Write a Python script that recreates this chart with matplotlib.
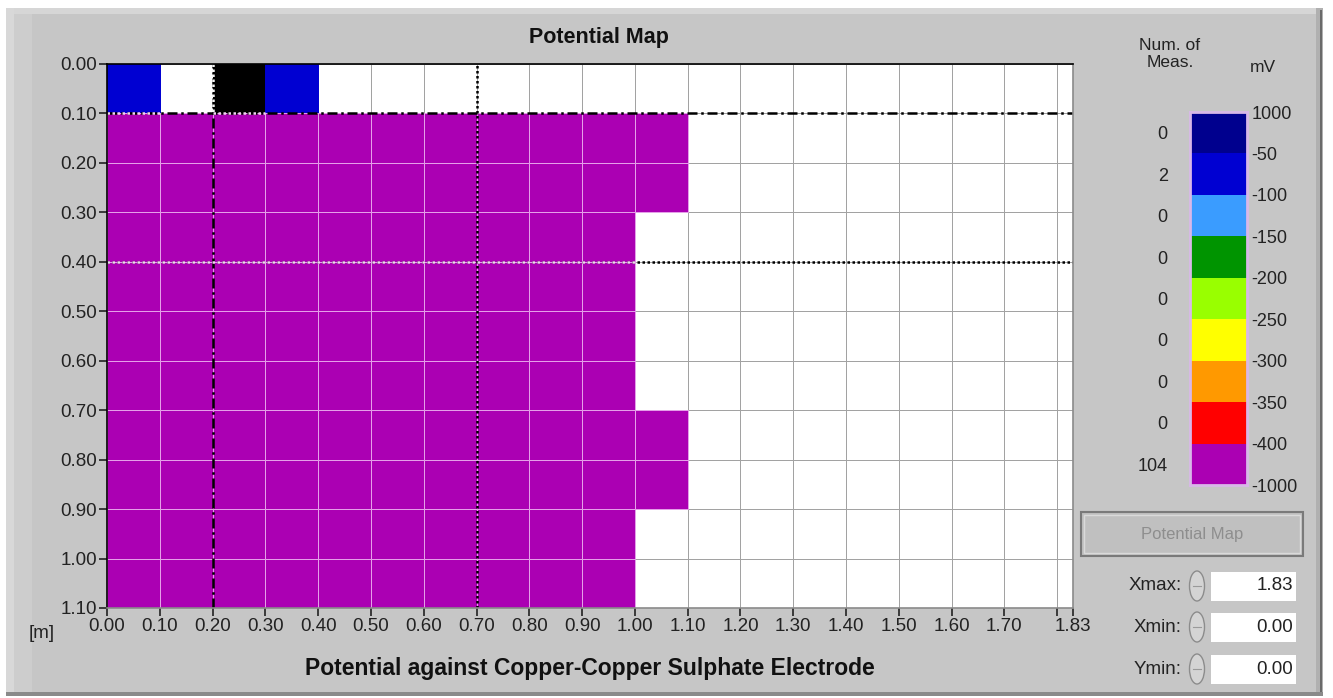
import numpy as np
import matplotlib.pyplot as plt
from matplotlib.colors import ListedColormap
from matplotlib.patches import Rectangle, Ellipse

W, H = 1333, 698

# grid of the potential map (metres)
x_edges = [0.0, 0.1, 0.2, 0.3, 0.4, 0.5, 0.6, 0.7, 0.8, 0.9, 1.0,
           1.1, 1.2, 1.3, 1.4, 1.5, 1.6, 1.7, 1.8, 1.83]
y_edges = [0.0, 0.1, 0.2, 0.3, 0.4, 0.5, 0.6, 0.7, 0.8, 0.9, 1.0, 1.1]
x_ticks = [0.0, 0.1, 0.2, 0.3, 0.4, 0.5, 0.6, 0.7, 0.8, 0.9, 1.0,
           1.1, 1.2, 1.3, 1.4, 1.5, 1.6, 1.7, 1.8, 1.83]
x_tick_labels = ["0.00", "0.10", "0.20", "0.30", "0.40", "0.50", "0.60",
                 "0.70", "0.80", "0.90", "1.00", "1.10", "1.20", "1.30",
                 "1.40", "1.50", "1.60", "1.70", "", "1.83"]
y_ticks = y_edges
y_tick_labels = ["%.2f" % v for v in y_edges]

# cell classes: P = below -400 mV, B = -50..-100 mV, K = black, . = no value
cells = [
    "B.KB...............",
    "PPPPPPPPPPP........",
    "PPPPPPPPPPP........",
    "PPPPPPPPPP.........",
    "PPPPPPPPPP.........",
    "PPPPPPPPPP.........",
    "PPPPPPPPPP.........",
    "PPPPPPPPPPP........",
    "PPPPPPPPPPP........",
    "PPPPPPPPPP.........",
    "PPPPPPPPPP.........",
]

# colour scale (bottom to top)
band_edges = ["-1000", "-400", "-350", "-300", "-250", "-200", "-150",
              "-100", "-50", "1000"]
band_colors = ["#ab00b3", "#ff0000", "#ff9900", "#ffff00", "#99ff00",
               "#009400", "#3a9cff", "#0000d2", "#00008e"]
meas_counts = [104, 0, 0, 0, 0, 0, 0, 2, 0]

# guide lines on the map
guide_x = [0.2, 0.7]
guide_x_style = ["dashdot", "dotted"]
guide_y = [0.1, 0.4]
guide_y_style = ["dashdot", "dotted"]

cell_colors = {"P": band_colors[0], "B": band_colors[7], "K": "#000000"}
cell_edges = {"P": "#e6a2ea", "B": None, "K": None}

styles = {"dashdot": (0, (4, 1.5, 1, 1.5)), "dotted": (0, (1, 1))}
light = "#f2d2f2"

plt.rcParams["font.family"] = ["Liberation Sans", "DejaVu Sans"]


def fx(px):
    return px / W


def fy(py):
    return 1 - py / H


fig = plt.figure(figsize=(W / 100, H / 100), dpi=100)
fig.patch.set_facecolor("white")

# panel background and bevelled frame
bg = fig.add_axes([0, 0, 1, 1])
bg.set_xlim(0, W)
bg.set_ylim(H, 0)
bg.axis("off")
bg.add_patch(Rectangle((6, 8), 1317, 688, facecolor="#c6c6c6", edgecolor="none"))
bg.add_patch(Rectangle((6, 8), 1317, 6, facecolor="#d6d6d6", edgecolor="none"))
bg.add_patch(Rectangle((6, 8), 8, 688, facecolor="#d8d8d8", edgecolor="none"))
bg.add_patch(Rectangle((14, 14), 18, 680, facecolor="#cdcdcd", edgecolor="none"))
bg.add_patch(Rectangle((1316, 8), 7, 688, facecolor="#b0b0b0", edgecolor="none"))
bg.add_patch(Rectangle((1320, 10), 2, 686, facecolor="#6a6a6a", edgecolor="none"))
bg.add_patch(Rectangle((6, 692), 1317, 4, facecolor="#8a8a8a", edgecolor="none"))

# potential map
ax = fig.add_axes([fx(107), fy(608), fx(1073 - 107), (608 - 64) / H])
codes = np.array([list(r) for r in cells])
ax.pcolormesh(x_edges, y_edges, np.zeros(codes.shape),
              cmap=ListedColormap(["white"]), edgecolors="#a2a2a2",
              linewidth=0.6)
for r in range(codes.shape[0]):
    for c in range(codes.shape[1]):
        code = codes[r, c]
        if code not in cell_colors:
            continue
        ec = cell_edges[code] or cell_colors[code]
        ax.add_patch(Rectangle((x_edges[c], y_edges[r]),
                               x_edges[c + 1] - x_edges[c],
                               y_edges[r + 1] - y_edges[r],
                               facecolor=cell_colors[code], edgecolor=ec,
                               linewidth=0.7))

for xv, st in zip(guide_x, guide_x_style):
    ax.axvline(xv, color="black", linestyle=styles[st], linewidth=1.8)
for yv, st in zip(guide_y, guide_y_style):
    ax.axhline(yv, color="black", linestyle=styles[st], linewidth=1.8)
# lighter segments where the guides cross dark cells
for x0, x1 in [(0.0, 0.1), (0.2, 0.3)]:
    ax.plot([x0, x1], [guide_y[0], guide_y[0]], color=light,
            linestyle=styles["dotted"], linewidth=1.8)
ax.plot([0.0, 1.0], [guide_y[1], guide_y[1]], color=light,
        linestyle=styles["dotted"], linewidth=1.8)
ax.plot([guide_x[0], guide_x[0]], [0.0, 0.1], color="#f4f4f4",
        linestyle=styles["dotted"], linewidth=1.8)

ax.set_xlim(0, 1.83)
ax.set_ylim(1.1, 0)
ax.set_xticks(x_ticks, x_tick_labels)
ax.set_yticks(y_ticks, y_tick_labels)
ax.tick_params(axis="both", labelsize=13.5, colors="#222222", length=6,
               width=1.2, direction="out")
ax.tick_params(axis="x", pad=1)
ax.tick_params(axis="y", pad=1)
ax.spines["top"].set_color("black")
ax.spines["left"].set_color("black")
ax.spines["right"].set_color("#8a8a8a")
ax.spines["bottom"].set_color("#8a8a8a")
for s in ax.spines.values():
    s.set_linewidth(1.2)

fig.text(fx(599), fy(38), "Potential Map", ha="center", va="center",
         fontsize=15.5, fontweight="bold", color="#111111")
fig.text(fx(590), fy(668), "Potential against Copper-Copper Sulphate Electrode",
         ha="center", va="center", fontsize=16.5, fontweight="bold",
         color="#111111")
fig.text(fx(42), fy(633), "[m]", ha="center", va="center", fontsize=13.5,
         color="#222222")

# colour scale
cb = fig.add_axes([fx(1190), fy(485), fx(1247 - 1190), (485 - 112) / H])
for i, col in enumerate(band_colors):
    cb.bar(0.5, 1, bottom=i, width=1, color=col, edgecolor="none")
cb.set_xlim(0, 1)
cb.set_ylim(0, len(band_colors))
cb.set_xticks([])
cb.set_yticks(np.arange(len(meas_counts)) + 0.5,
              [str(c) for c in meas_counts])
cb.tick_params(axis="y", length=0, pad=16, labelsize=13,
               colors="#222222")
for s in cb.spines.values():
    s.set_color("#d8b8e8")
    s.set_linewidth(2)
cb2 = cb.twinx()
cb2.set_ylim(0, len(band_colors))
cb2.set_yticks(np.arange(len(band_edges)), band_edges)
cb2.tick_params(axis="y", length=0, pad=3, labelsize=13, colors="#222222")
for s in cb2.spines.values():
    s.set_visible(False)

fig.text(fx(1170), fy(54), "Num. of\nMeas.", ha="center", va="center",
         fontsize=12.5, color="#222222", linespacing=1.1)
fig.text(fx(1263), fy(67), "mV", ha="center", va="center", fontsize=12.5,
         color="#222222")

# button
bg.add_patch(Rectangle((1081, 512), 222, 44, facecolor="#c0c0c0",
                       edgecolor="#7a7a7a", linewidth=1.5))
bg.add_patch(Rectangle((1084, 515), 216, 38, facecolor="none",
                       edgecolor="#dadada", linewidth=1))
bg.text(1192, 535, "Potential Map", ha="center", va="center", fontsize=12,
        color="#8e8e8e")

# numeric controls
ctrl_names = ["Xmax:", "Xmin:", "Ymin:"]
ctrl_values = ["1.83", "0.00", "0.00"]
ctrl_y = [586, 627, 669]
for name, val, cy in zip(ctrl_names, ctrl_values, ctrl_y):
    bg.text(1182, cy, name, ha="right", va="center", fontsize=13.5,
            color="#222222")
    bg.add_patch(Ellipse((1197, cy), 15, 30, facecolor="#d4d4d4",
                         edgecolor="#8c8c8c", linewidth=1))
    bg.plot([1193, 1201], [cy, cy], color="#9a9a9a", linewidth=0.8)
    bg.add_patch(Rectangle((1211, cy - 14), 85, 29, facecolor="white",
                           edgecolor="none"))
    bg.text(1293, cy, val, ha="right", va="center", fontsize=13.5,
            color="#222222")

fig.savefig("out.png", dpi=100)
